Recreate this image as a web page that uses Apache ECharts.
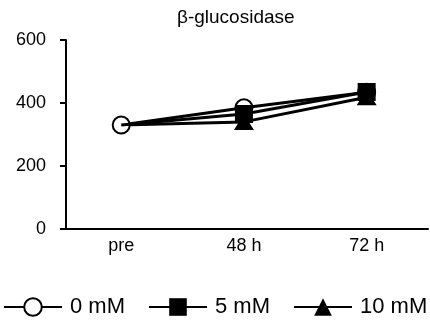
<!DOCTYPE html>
<html>
<head>
<meta charset="utf-8">
<script src="https://cdn.jsdelivr.net/npm/echarts@6/dist/echarts.min.js"></script>
<style>html,body{margin:0;padding:0;background:#fff;}#c{width:430px;height:324px;}</style>
</head>
<body>
<div id="c"></div>
<script>
var categories = ['pre', '48 h', '72 h'];
var seriesNames = ['0 mM', '5 mM', '10 mM'];
var values0mM = [330, 385, 434];
var values5mM = [330, 365, 435];
var values10mM = [330, 340, 418];
var yTicks = [0, 200, 400, 600];
var titleText = 'β-glucosidase';

// the shared "pre" baseline is drawn only as the 0 mM circle
function pts(arr, hideFirst) {
  return arr.map(function (v, i) {
    var d = { value: [i, v] };
    if (hideFirst && i === 0) { d.symbol = 'none'; }
    return d;
  });
}
var FONT = '"Liberation Sans", Arial, sans-serif';
var chart = echarts.init(document.getElementById('c'), null, { renderer: 'canvas' });
chart.setOption({
  animation: false,
  backgroundColor: '#fff',
  title: {
    text: titleText, left: 172, top: 3,
    textStyle: { fontFamily: FONT, fontSize: 19, fontWeight: 'normal', color: '#000' }
  },
  grid: { left: 66, right: 2, top: 40, bottom: 95, containLabel: false },
  xAxis: {
    type: 'value', min: -0.45, max: 2.5,
    axisLine: { show: true, onZero: false, lineStyle: { color: '#000', width: 2 } },
    axisTick: { show: false },
    splitLine: { show: false },
    axisLabel: {
      customValues: [0, 1, 2],
      formatter: function (v) { return categories[Math.round(v)]; },
      fontFamily: FONT, fontSize: 18, color: '#000', margin: 8
    }
  },
  yAxis: {
    type: 'value', min: 0, max: 600, interval: 200,
    axisLine: { show: true, onZero: false, lineStyle: { color: '#000', width: 2 } },
    axisTick: { show: true, inside: false, length: 6, lineStyle: { color: '#000', width: 2 } },
    splitLine: { show: false },
    axisLabel: {
      customValues: yTicks,
      fontFamily: FONT, fontSize: 18, color: '#000', margin: 20
    }
  },
  legend: {
    bottom: 6, left: 3, width: 600, padding: 0,
    orient: 'horizontal',
    itemWidth: 58, itemHeight: 22, itemGap: 23,
    textStyle: { fontFamily: FONT, fontSize: 22, color: '#000', padding: [0, 0, 0, 3] },
    data: seriesNames
  },
  series: [
    {
      name: seriesNames[0], type: 'line', data: pts(values0mM, false), z: 3,
      symbol: 'circle', symbolSize: 17,
      itemStyle: { color: '#fff', borderColor: '#000', borderWidth: 2 },
      lineStyle: { color: '#000', width: 3 }
    },
    {
      name: seriesNames[2], type: 'line', data: pts(values10mM, true), z: 2,
      symbol: 'triangle', symbolSize: [20, 16],
      itemStyle: { color: '#000', borderColor: '#000', borderWidth: 0 },
      lineStyle: { color: '#000', width: 3 }
    },
    {
      name: seriesNames[1], type: 'line', data: pts(values5mM, true), z: 4,
      symbol: 'rect', symbolSize: 18,
      itemStyle: { color: '#000', borderColor: '#000', borderWidth: 0 },
      lineStyle: { color: '#000', width: 3 }
    }
  ]
});
</script>
</body>
</html>
